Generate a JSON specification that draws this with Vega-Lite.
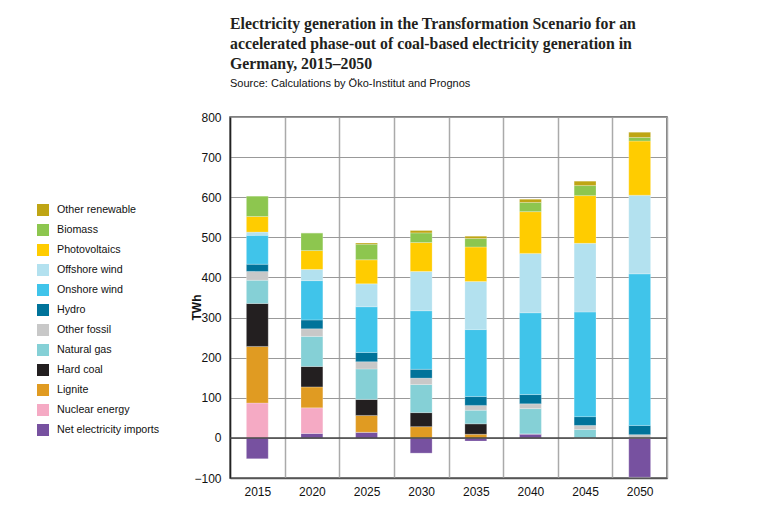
{
  "$schema": "https://vega.github.io/schema/vega-lite/v6.json",
  "width": 437,
  "height": 361,
  "autosize": {"type": "none"},
  "padding": {"left": 230, "top": 117, "right": 92, "bottom": 45},
  "background": "white",
  "config": {"font": "Liberation Sans", "view": {"stroke": "#555", "strokeWidth": 1.5}},
  "title": {
    "text": ["Electricity generation in the Transformation Scenario for an", "accelerated phase-out of coal-based electricity generation in", "Germany, 2015–2050"],
    "subtitle": "Source: Calculations by Öko-Institut and Prognos",
    "anchor": "start",
    "frame": "group",
    "font": "Liberation Serif",
    "fontSize": 15.8,
    "fontWeight": "bold",
    "color": "#231f20",
    "lineHeight": 20,
    "subtitleFont": "Liberation Sans",
    "subtitleFontSize": 11,
    "subtitleColor": "#111",
    "subtitlePadding": 5,
    "offset": 21
  },
  "data": {"values": [
    {"year": 2015, "Net electricity imports": -52, "Nuclear energy": 87, "Lignite": 141, "Hard coal": 107, "Natural gas": 58, "Other fossil": 22, "Hydro": 18, "Onshore wind": 72, "Offshore wind": 8, "Photovoltaics": 39, "Biomass": 51, "Other renewable": 0},
    {"year": 2020, "Net electricity imports": 11, "Nuclear energy": 64, "Lignite": 52, "Hard coal": 51, "Natural gas": 75, "Other fossil": 19, "Hydro": 22, "Onshore wind": 98, "Offshore wind": 28, "Photovoltaics": 47, "Biomass": 44, "Other renewable": 0},
    {"year": 2025, "Net electricity imports": 14, "Nuclear energy": 0, "Lignite": 42, "Hard coal": 40, "Natural gas": 76, "Other fossil": 18, "Hydro": 23, "Onshore wind": 114, "Offshore wind": 57, "Photovoltaics": 60, "Biomass": 39, "Other renewable": 3},
    {"year": 2030, "Net electricity imports": -38, "Nuclear energy": 0, "Lignite": 28, "Hard coal": 35, "Natural gas": 70, "Other fossil": 16, "Hydro": 22, "Onshore wind": 146, "Offshore wind": 98, "Photovoltaics": 72, "Biomass": 24, "Other renewable": 6},
    {"year": 2035, "Net electricity imports": -8, "Nuclear energy": 0, "Lignite": 9, "Hard coal": 26, "Natural gas": 34, "Other fossil": 12, "Hydro": 22, "Onshore wind": 167, "Offshore wind": 120, "Photovoltaics": 86, "Biomass": 21, "Other renewable": 6},
    {"year": 2040, "Net electricity imports": 10, "Nuclear energy": 0, "Lignite": 0, "Hard coal": 0, "Natural gas": 63, "Other fossil": 12, "Hydro": 23, "Onshore wind": 204, "Offshore wind": 148, "Photovoltaics": 104, "Biomass": 23, "Other renewable": 8},
    {"year": 2045, "Net electricity imports": 0, "Nuclear energy": 0, "Lignite": 0, "Hard coal": 0, "Natural gas": 21, "Other fossil": 10, "Hydro": 22, "Onshore wind": 261, "Offshore wind": 171, "Photovoltaics": 119, "Biomass": 25, "Other renewable": 11},
    {"year": 2050, "Net electricity imports": -98, "Nuclear energy": 0, "Lignite": 0, "Hard coal": 0, "Natural gas": 0, "Other fossil": 8, "Hydro": 23, "Onshore wind": 378, "Offshore wind": 196, "Photovoltaics": 135, "Biomass": 9, "Other renewable": 13}
  ]},
  "layer": [
    {
      "transform": [
        {"fold": ["Net electricity imports", "Nuclear energy", "Lignite", "Hard coal", "Natural gas", "Other fossil", "Hydro", "Onshore wind", "Offshore wind", "Photovoltaics", "Biomass", "Other renewable"], "as": ["source", "twh"]},
        {"calculate": "indexof(['Net electricity imports', 'Nuclear energy', 'Lignite', 'Hard coal', 'Natural gas', 'Other fossil', 'Hydro', 'Onshore wind', 'Offshore wind', 'Photovoltaics', 'Biomass', 'Other renewable'], datum.source)", "as": "k"}
      ],
      "mark": {"type": "bar", "width": {"band": 0.4}, "stroke": "white", "strokeWidth": 0.4, "strokeOpacity": 0.6},
      "encoding": {
        "x": {
          "field": "year", "type": "ordinal",
          "scale": {"paddingInner": 0, "paddingOuter": 0},
          "axis": {"title": null, "tickBand": "extent", "grid": true, "gridColor": "#aaa", "gridWidth": 1.5, "ticks": false, "labelAngle": 0, "labelFontSize": 12, "labelColor": "#111", "labelPadding": 8, "domainColor": "#555", "domainWidth": 1.5}
        },
        "y": {
          "field": "twh", "type": "quantitative", "stack": "zero",
          "scale": {"domain": [-100, 800], "nice": false},
          "axis": {"title": "TWh", "values": [-100, 0, 100, 200, 300, 400, 500, 600, 700, 800], "grid": true, "gridColor": "#999", "gridWidth": 1.2, "labelFontSize": 12, "labelColor": "#111", "ticks": false, "labelPadding": 9, "titleFontSize": 12, "titleFontWeight": "bold", "titleColor": "#111", "titleX": -27, "titleY": 190, "titleAngle": -90, "domainColor": "#222", "domainWidth": 1.5}
        },
        "color": {
          "field": "source", "type": "nominal",
          "scale": {
            "domain": ["Other renewable", "Biomass", "Photovoltaics", "Offshore wind", "Onshore wind", "Hydro", "Other fossil", "Natural gas", "Hard coal", "Lignite", "Nuclear energy", "Net electricity imports"],
            "range": ["#bfa514", "#8dc64f", "#ffcc00", "#b3e1ef", "#40c4ea", "#00739a", "#c8c8c8", "#85d0d6", "#231f20", "#e09b22", "#f5aac4", "#7751a0"]
          },
          "legend": {"orient": "none", "legendX": -193, "legendY": 87, "title": null, "symbolType": "square", "symbolSize": 144, "symbolStrokeWidth": 0, "labelFontSize": 10.7, "labelColor": "#111", "labelOffset": 8, "rowPadding": 8}
        },
        "order": {"field": "k", "type": "quantitative"}
      }
    },
    {
      "data": {"values": [{}]},
      "mark": {"type": "rule", "color": "#444", "strokeWidth": 1.5},
      "encoding": {"y": {"datum": 0}}
    }
  ]
}
